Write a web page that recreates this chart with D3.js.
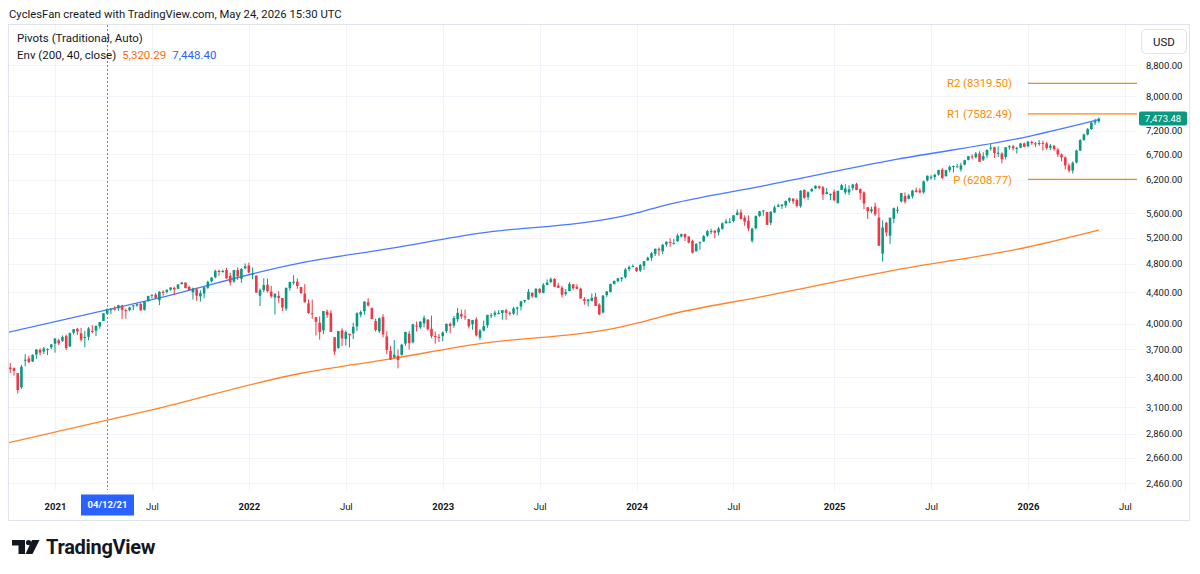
<!DOCTYPE html>
<html>
<head>
<meta charset="utf-8">
<script src="https://cdn.jsdelivr.net/npm/d3@7"></script>
<style>
  html, body { margin: 0; padding: 0; background: #ffffff; }
  svg { display: block; font-family: Roboto, "Noto Sans", sans-serif; }
</style>
</head>
<body>
<script>
// ---------------- DATA ----------------
const firstWeek = "2020-10-05";   // Monday of the first weekly bar

const opens = [
3348,3500,3494,3441,3296,3584,3600,3566,3641,3694,3675,3694,3723,
3764,3803,3797,3851,3732,3892,3939,3885,3842,3844,3914,3916,3969,4034,4125,4180,4185,4192,4228,4170,4170,4217,4229,4248,4174,4285,4356,4372,4297,4410,4407,4437,4462,4450,4514,4535,4474,4402,4442,4348,4385,4464,4553,4610,4701,4689,4712,4628,4548,4711,4588,4733,
4778,4655,4632,4357,4432,4506,4412,4333,4354,4327,4189,4462,4541,4548,4474,4385,4256,4130,4081,4013,3920,4151,4134,3839,3716,3920,3819,3880,3883,3966,4113,4156,4270,4195,4034,3909,4084,3849,3683,3609,3627,3638,3765,3881,3780,3978,3956,4005,4052,3939,3853,3843,
3853,3911,3999,3978,4055,4119,4091,4057,3993,4055,3835,3917,3982,4102,4110,4132,4134,4167,4136,4126,4190,4216,4283,4308,4396,4337,4450,4395,4502,4543,4585,4492,4464,4381,4419,4511,4477,4452,4311,4284,4289,4343,4239,4139,4365,4406,4514,4555,4587,4610,4726,4759,
4746,4703,4772,4853,4892,4950,5026,4989,5094,5131,5111,5142,5220,5257,5217,5149,4988,5114,5143,5233,5298,5315,5284,5341,5432,5460,5471,5572,5616,5525,5477,5151,5352,5557,5638,5623,5442,5615,5711,5727,5737,5818,5857,5833,5724,6016,5883,5992,6040,6083,6063,5941,5920,
5982,5776,6014,5970,5969,6046,6121,6026,5968,5705,5635,5718,5527,4953,5441,5232,5509,5655,5808,5902,5854,5897,6004,6005,5970,6193,6259,6255,6304,6397,6272,6389,6448,6457,6401,6494,6590,6662,6645,6719,6597,6684,6818,6852,6734,6719,6647,
6850,6870,6830,6840,6930,6870,6960,6930,6915,6940,6930,6840,6880,6800,6700,6640,6480,6380,6540,6780,7000,7120,7240,7380,7410];

const highs = [
3486,3550,3502,3441,3529,3646,3629,3644,3701,3712,3727,3712,3760,
3827,3823,3860,3871,3894,3937,3951,3951,3915,3960,3983,3978,4021,4129,4191,4195,4219,4238,4238,4189,4213,4234,4256,4262,4287,4356,4372,4393,4415,4430,4440,4469,4480,4513,4546,4536,4493,4466,4466,4429,4475,4560,4608,4718,4714,4718,4744,4672,4713,4749,4741,4808,
4819,4749,4632,4453,4595,4590,4490,4385,4416,4327,4465,4546,4637,4593,4475,4513,4308,4307,4082,4090,4158,4178,4168,3840,3914,3946,3918,3880,4013,4141,4168,4281,4325,4203,4062,4077,4119,3908,3737,3807,3698,3763,3906,3911,4001,4028,4034,4101,4052,4101,3906,3878,
3907,4004,4016,4095,4196,4176,4176,4057,4048,4079,3937,4039,4110,4133,4164,4170,4170,4185,4155,4213,4213,4290,4299,4448,4401,4458,4456,4527,4578,4607,4595,4532,4490,4448,4542,4515,4512,4466,4338,4310,4386,4394,4256,4366,4416,4521,4560,4598,4610,4739,4779,4793,
4754,4802,4842,4907,4976,5030,5048,5104,5140,5190,5179,5262,5265,5264,5222,5168,5114,5140,5240,5325,5342,5315,5376,5448,5506,5524,5570,5667,5670,5566,5566,5358,5564,5643,5651,5623,5637,5733,5767,5757,5822,5879,5863,5863,6012,6018,5985,6045,6099,6090,6085,6049,5950,
6021,6000,6128,6120,6101,6127,6147,6044,5987,5705,5716,5786,5695,5481,5460,5528,5700,5720,5959,5968,5944,6017,6059,6050,6187,6284,6291,6316,6395,6428,6395,6481,6482,6508,6532,6593,6672,6699,6750,6764,6745,6808,6920,6860,6870,6746,6853,
6895,6900,6860,6940,6945,6980,6990,6960,7000,6990,6960,6920,6900,6830,6720,6660,6520,6560,6800,7020,7140,7260,7400,7470,7500];

const lows = [
3330,3441,3415,3234,3279,3512,3550,3559,3594,3634,3648,3636,3701,
3663,3750,3784,3694,3726,3874,3866,3789,3723,3806,3886,3853,3939,4034,4118,4118,4166,4160,4056,4061,4156,4168,4212,4165,4165,4279,4321,4316,4233,4356,4385,4423,4368,4444,4509,4457,4427,4306,4289,4279,4323,4448,4537,4595,4630,4672,4585,4495,4532,4572,4531,4733,
4662,4582,4395,4223,4405,4401,4328,4115,4267,4157,4162,4424,4507,4450,4381,4267,4124,4062,3859,3811,3876,4074,3901,3637,3705,3738,3742,3722,3818,3911,4080,4113,4218,4057,3906,3886,3838,3647,3584,3604,3492,3630,3740,3699,3768,3906,3938,3957,3919,3828,3765,3783,
3794,3890,3885,3951,4021,4060,4047,3943,3928,3847,3809,3908,3951,4069,4084,4114,4049,4049,4099,4110,4103,4167,4261,4302,4328,4328,4385,4389,4498,4527,4474,4460,4335,4356,4417,4431,4447,4317,4238,4216,4283,4223,4104,4127,4342,4402,4510,4537,4547,4593,4693,4751,
4682,4682,4714,4845,4845,4918,4920,4946,5057,5056,5091,5138,5204,5146,5108,4954,4987,5012,5132,5212,5257,5191,5234,5327,5432,5433,5448,5566,5497,5391,5303,5119,5331,5540,5561,5403,5403,5604,5707,5674,5696,5783,5762,5701,5696,5853,5831,5972,6030,6024,5832,5933,5829,
5809,5773,6012,5932,5923,6004,6009,5837,5667,5505,5603,5557,5069,4835,5220,5101,5434,5598,5786,5767,5843,5861,5963,5952,5943,6168,6202,6201,6281,6212,6262,6342,6343,6444,6360,6480,6580,6604,6621,6550,6570,6628,6780,6631,6646,6521,6600,
6800,6780,6720,6830,6845,6850,6900,6850,6880,6780,6800,6790,6780,6650,6560,6400,6340,6320,6520,6770,6990,7100,7220,7330,7380];

const closes = [
3477,3484,3465,3270,3509,3585,3558,3638,3699,3663,3709,3703,3756,
3825,3768,3841,3714,3887,3935,3907,3811,3842,3943,3913,3975,4020,4129,4185,4180,4181,4233,4174,4156,4204,4230,4247,4166,4281,4352,4370,4327,4412,4395,4437,4468,4442,4509,4535,4459,4433,4455,4357,4391,4471,4545,4605,4698,4683,4698,4595,4538,4712,4621,4726,4766,
4677,4663,4398,4432,4501,4419,4349,4385,4329,4204,4463,4543,4546,4488,4393,4272,4132,4123,4024,3901,4158,4109,3901,3675,3912,3825,3899,3863,3962,4130,4145,4280,4228,4058,3924,4067,3873,3693,3586,3640,3583,3753,3901,3771,3993,3965,4026,4072,3934,3852,3845,3840,
3895,3999,3973,4071,4136,4090,4079,3970,4046,3862,3917,3971,4109,4105,4138,4134,4169,4136,4124,4192,4205,4282,4299,4410,4348,4450,4399,4505,4536,4582,4478,4464,4370,4406,4516,4457,4450,4320,4288,4309,4328,4224,4117,4358,4415,4514,4559,4595,4604,4719,4755,4770,
4697,4784,4840,4891,4959,5027,5006,5089,5137,5124,5117,5234,5254,5204,5123,4967,5100,5128,5223,5303,5305,5278,5347,5432,5465,5460,5567,5615,5505,5459,5347,5344,5554,5635,5648,5408,5626,5703,5738,5751,5815,5865,5808,5729,5996,5871,5969,6032,6090,6051,5931,5971,5942,
5827,5997,6101,6041,6026,6115,6013,5955,5770,5639,5668,5581,5074,5363,5283,5525,5687,5660,5958,5803,5912,6000,5977,5968,6173,6279,6260,6297,6389,6238,6389,6450,6467,6460,6482,6584,6664,6644,6716,6553,6664,6792,6840,6729,6734,6603,6849,
6870,6827,6834,6930,6858,6966,6940,6915,6940,6930,6835,6880,6810,6700,6640,6480,6380,6530,6780,7000,7120,7240,7380,7410,7473.48];

const envDates  = ["2020-10-05","2021-07-05","2022-04-11","2022-09-26","2023-03-13","2023-11-20","2024-01-08","2024-02-19","2024-08-26","2025-05-05","2026-01-05","2026-05-18"];
const envLower  = [2780, 3076, 3440, 3594, 3765, 3945, 4016, 4092, 4349, 4717, 5054, 5320.29];
const envUpper  = [3892, 4306, 4816, 5032, 5271, 5523, 5622, 5729, 6089, 6604, 7076, 7448.40];

// Pivots (Traditional, Auto) — yearly levels for 2026
const pivotNames  = ["R2", "R1", "P"];
const pivotValues = [8319.50, 7582.49, 6208.77];
const pivotStart  = "2026-01-05";

// Axes
const priceTicks = [8800, 8000, 7200, 6700, 6200, 5600, 5200, 4800, 4400, 4000, 3700, 3400, 3100, 2860, 2660, 2460];
const timeTickDates  = ["2021-01-04","2021-07-05","2022-01-03","2022-07-04","2023-01-02","2023-07-03","2024-01-01","2024-07-01","2025-01-06","2025-07-07","2026-01-05","2026-07-06"];
const timeTickLabels = ["2021","Jul","2022","Jul","2023","Jul","2024","Jul","2025","Jul","2026","Jul"];
const crosshairDate  = "2021-04-12";
const crosshairLabel = "04/12/21";

const titleText   = "CyclesFan created with TradingView.com, May 24, 2026 15:30 UTC";
const legendPivot = "Pivots (Traditional, Auto)";
const legendEnv   = "Env (200, 40, close)";
const lastPriceLabel = "7,473.48";

// ---------------- DRAW ----------------
const W = 1200, H = 574;
const P = { left: 9, right: 1137, top: 25, bottom: 490 };
const C = {
  up: "#089981", down: "#f23645", grid: "#f0f3fa", border: "#e0e3eb",
  text: "#131722", blue: "#2962ff", orange: "#ff6d00", pivot: "#fb8c00"
};
const parse = s => { const [a,b,c] = s.split("-").map(Number); return new Date(Date.UTC(a, b-1, c)); };
const DAY = 864e5;
const t0 = parse(firstWeek);
const bars = opens.map((o, k) => ({
  date: new Date(t0.getTime() + k * 7 * DAY),
  o, h: highs[k], l: lows[k], c: closes[k]
}));

const x = d3.scaleTime().domain([parse("2021-01-04"), parse("2026-01-05")]).range([55, 1028]);
const y = d3.scaleLog().domain([2460, 8800]).range([483.3, 65]);

const svg = d3.select("body").append("svg").attr("width", W).attr("height", H);
svg.append("rect").attr("width", W).attr("height", H).attr("fill", "#fff");

// title
svg.append("text").attr("x", 9).attr("y", 17.5).attr("font-size", 11.3).attr("fill", C.text).text(titleText);

// frame
svg.append("rect").attr("x", 8.5).attr("y", 24.5).attr("width", 1181).attr("height", 496)
  .attr("fill", "none").attr("stroke", C.border);

const defs = svg.append("defs");
defs.append("clipPath").attr("id", "plotclip").append("rect")
  .attr("x", P.left).attr("y", P.top).attr("width", P.right - P.left).attr("height", P.bottom - P.top);

// grid
const grid = svg.append("g");
grid.selectAll(".hg").data(priceTicks).join("line")
  .attr("x1", P.left).attr("x2", P.right)
  .attr("y1", d => Math.round(y(d)) + 0.5).attr("y2", d => Math.round(y(d)) + 0.5)
  .attr("stroke", C.grid);
grid.selectAll(".vg").data(timeTickDates).join("line")
  .attr("x1", d => Math.round(x(parse(d))) + 0.5).attr("x2", d => Math.round(x(parse(d))) + 0.5)
  .attr("y1", P.top).attr("y2", P.bottom)
  .attr("stroke", C.grid);

const plot = svg.append("g").attr("clip-path", "url(#plotclip)");

// envelope lines
const envLine = d3.line().x(d => x(d[0])).y(d => y(d[1])).curve(d3.curveMonotoneX);
plot.append("path").datum(envDates.map((d, i) => [parse(d), envLower[i]]))
  .attr("d", envLine).attr("fill", "none").attr("stroke", C.orange).attr("stroke-opacity", 0.85).attr("stroke-width", 1.3);
plot.append("path").datum(envDates.map((d, i) => [parse(d), envUpper[i]]))
  .attr("d", envLine).attr("fill", "none").attr("stroke", C.blue).attr("stroke-opacity", 0.85).attr("stroke-width", 1.3);

// crosshair (dotted, blue)
const cx = Math.round(x(parse(crosshairDate))) + 0.5;
svg.append("line").attr("x1", cx).attr("x2", cx).attr("y1", P.top).attr("y2", P.bottom)
  .attr("stroke", "#4d7cff").attr("stroke-width", 1).attr("stroke-dasharray", "2,2");

// candles
const bw = 2.6;
const cg = plot.append("g");
cg.selectAll(".wick").data(bars).join("line")
  .attr("x1", d => x(d.date)).attr("x2", d => x(d.date))
  .attr("y1", d => y(d.h)).attr("y2", d => y(d.l))
  .attr("stroke", d => d.c >= d.o ? C.up : C.down).attr("stroke-width", 1);
cg.selectAll(".body").data(bars).join("rect")
  .attr("x", d => x(d.date) - bw / 2).attr("width", bw)
  .attr("y", d => y(Math.max(d.o, d.c)))
  .attr("height", d => Math.max(1, y(Math.min(d.o, d.c)) - y(Math.max(d.o, d.c))))
  .attr("fill", d => d.c >= d.o ? C.up : C.down);

// pivots
const px0 = x(parse(pivotStart));
const pg = svg.append("g");
pg.selectAll("line").data(pivotValues).join("line")
  .attr("x1", px0).attr("x2", P.right)
  .attr("y1", d => y(d)).attr("y2", d => y(d))
  .attr("stroke", C.pivot).attr("stroke-width", 1.3);
pg.selectAll("text").data(pivotValues).join("text")
  .attr("x", px0 - 16).attr("y", d => y(d)).attr("dy", "0.36em")
  .attr("text-anchor", "end").attr("font-size", 11.3).attr("fill", C.pivot)
  .text((d, i) => `${pivotNames[i]} (${d.toFixed(2)})`);

// price axis
const yAxis = d3.axisRight(y).tickValues(priceTicks).tickFormat(d3.format(",.2f")).tickSize(0).tickPadding(9);
const ya = svg.append("g").attr("transform", `translate(${P.right},0)`).call(yAxis);
ya.select(".domain").remove();
ya.selectAll("text").attr("font-size", 9.5).attr("font-family", "Roboto, sans-serif").attr("fill", C.text);

// time axis
const xAxis = d3.axisBottom(x).tickValues(timeTickDates.map(parse)).tickFormat((d, i) => timeTickLabels[i]).tickSize(0).tickPadding(13);
const xa = svg.append("g").attr("transform", `translate(0,${P.bottom})`).call(xAxis);
xa.select(".domain").remove();
xa.selectAll("text").attr("font-size", 9.5).attr("font-family", "Roboto, sans-serif").attr("fill", C.text)
  .attr("font-weight", (d, i) => timeTickLabels[i] === "Jul" ? 400 : 700);

// crosshair time label
svg.append("rect").attr("x", cx - 26.5).attr("y", 494.5).attr("width", 53).attr("height", 21)
  .attr("fill", C.blue);
svg.append("text").attr("x", cx).attr("y", 505).attr("dy", "0.36em").attr("text-anchor", "middle")
  .attr("font-size", 9.5).attr("font-weight", 700).attr("fill", "#fff").text(crosshairLabel);

// last price label
const lastY = y(closes[closes.length - 1]);
svg.append("rect").attr("x", 1139).attr("y", lastY - 7).attr("width", 48).attr("height", 14)
  .attr("rx", 2).attr("fill", C.up);
svg.append("text").attr("x", 1163).attr("y", lastY).attr("dy", "0.36em").attr("text-anchor", "middle")
  .attr("font-size", 9.5).attr("fill", "#fff").text(lastPriceLabel);

// USD box
svg.append("rect").attr("x", 1141.5).attr("y", 29.5).attr("width", 45).attr("height", 24).attr("rx", 4)
  .attr("fill", "#fff").attr("stroke", C.border);
svg.append("text").attr("x", 1164).attr("y", 42).attr("dy", "0.36em").attr("text-anchor", "middle")
  .attr("font-size", 11.5).attr("fill", C.text).text("USD");

// legend
svg.append("text").attr("x", 17).attr("y", 42).attr("font-size", 11.5).attr("fill", C.text).text(legendPivot);
const lg = svg.append("text").attr("x", 17).attr("y", 59).attr("font-size", 11.5).attr("fill", C.text);
lg.append("tspan").text(legendEnv);
lg.append("tspan").attr("dx", 6).attr("fill", C.orange).text(d3.format(",.2f")(envLower[envLower.length - 1]));
lg.append("tspan").attr("dx", 6).attr("fill", C.blue).text(d3.format(",.2f")(envUpper[envUpper.length - 1]));

// TradingView logo
const logo = svg.append("g").attr("fill", "#131722");
logo.append("path").attr("d", "M12 540 H25 V554 H18.5 V545.5 H12 Z");
logo.append("circle").attr("cx", 28.5).attr("cy", 542.6).attr("r", 2.6);
logo.append("path").attr("d", "M32 540 H39.5 L32.5 554 H25.5 Z");
svg.append("text").attr("x", 46).attr("y", 554).attr("font-size", 20).attr("font-weight", 700)
  .attr("fill", "#131722").attr("letter-spacing", -0.3).text("TradingView");
</script>
</body>
</html>
